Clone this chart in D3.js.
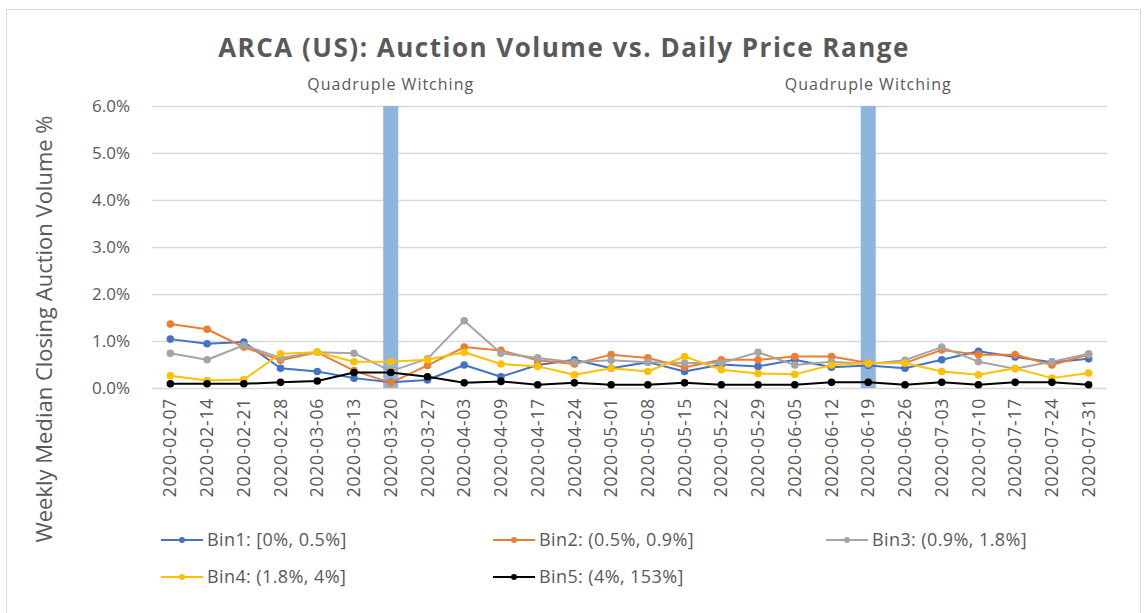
<!DOCTYPE html>
<html>
<head>
<meta charset="utf-8">
<script src="https://cdn.jsdelivr.net/npm/d3@7"></script>
<style>
  body { margin: 0; background: #fff; }
  text { font-family: "Open Sans", sans-serif; fill: #595959; }
</style>
</head>
<body>
<div id="chart"></div>
<script>
var dates = ["2020-02-07","2020-02-14","2020-02-21","2020-02-28","2020-03-06","2020-03-13",
  "2020-03-20","2020-03-27","2020-04-03","2020-04-09","2020-04-17","2020-04-24","2020-05-01",
  "2020-05-08","2020-05-15","2020-05-22","2020-05-29","2020-06-05","2020-06-12","2020-06-19",
  "2020-06-26","2020-07-03","2020-07-10","2020-07-17","2020-07-24","2020-07-31"]

var bin1 = [1.04,0.94,0.98,0.42,0.35,0.21,0.12,0.17,0.49,0.24,0.49,0.60,0.42,0.55,0.35,0.50,0.46,0.60,0.44,0.48,0.42,0.60,0.78,0.66,0.55,0.62]
var bin2 = [1.36,1.25,0.87,0.59,0.76,0.37,0.11,0.48,0.87,0.80,0.59,0.51,0.71,0.64,0.44,0.60,0.60,0.67,0.67,0.53,0.53,0.81,0.71,0.71,0.49,0.71]
var bin3 = [0.74,0.60,0.91,0.64,0.76,0.74,0.36,0.62,1.43,0.74,0.64,0.55,0.59,0.55,0.53,0.53,0.76,0.49,0.56,0.51,0.59,0.87,0.56,0.41,0.56,0.73]
var bin4 = [0.26,0.16,0.18,0.73,0.76,0.56,0.56,0.60,0.76,0.51,0.46,0.28,0.42,0.35,0.67,0.39,0.31,0.29,0.49,0.53,0.53,0.35,0.28,0.42,0.21,0.32]
var bin5 = [0.09,0.09,0.09,0.12,0.15,0.33,0.33,0.24,0.11,0.14,0.07,0.11,0.07,0.07,0.11,0.07,0.07,0.07,0.12,0.12,0.07,0.12,0.07,0.12,0.12,0.07]

var seriesNames = ["Bin1: [0%, 0.5%]", "Bin2: (0.5%, 0.9%]", "Bin3: (0.9%, 1.8%]", "Bin4: (1.8%, 4%]", "Bin5: (4%, 153%]"]
var seriesColors = ["#4472C4", "#ED7D31", "#A5A5A5", "#FFC000", "#000000"]

// quadruple witching weeks, drawn as full-height bars
var witchingDates = ["2020-03-20", "2020-06-19"]
var witchingValue = 6.0

var yTicks = [0, 1, 2, 3, 4, 5, 6]

var width = 1144, height = 613
var margin = { left: 152, right: 37, top: 106, bottom: 225 }

var svg = d3.select("#chart").append("svg")
    .attr("width", width)
    .attr("height", height)

// chart frame
svg.append("rect")
    .attr("x", 6.5).attr("y", 9.5)
    .attr("width", 1134).attr("height", 640)
    .style("fill", "none")
    .style("stroke", "#d9d9d9")

var x = d3.scaleBand()
    .domain(dates)
    .range([margin.left, width - margin.right])

var y = d3.scaleLinear()
    .domain([0, 6])
    .range([height - margin.bottom, margin.top])

// gridlines
svg.selectAll("line.grid")
    .data(yTicks)
  .enter().append("line")
    .attr("class", "grid")
    .attr("x1", margin.left)
    .attr("x2", width - margin.right)
    .attr("y1", function(d) { return Math.round(y(d)) + 0.5 })
    .attr("y2", function(d) { return Math.round(y(d)) + 0.5 })
    .style("stroke", "#d9d9d9")
    .style("stroke-width", 1.3)

// y axis labels
var yAxis = svg.append("g")
    .attr("transform", "translate(" + (margin.left - 19) + ",0)")
    .call(d3.axisLeft(y).tickValues(yTicks).tickSize(0).tickFormat(function(d) { return d3.format(".1f")(d) + "%" }))
yAxis.select(".domain").remove()
yAxis.selectAll("text")
    .style("font-size", "17px")
    .style("font-family", "'Open Sans', sans-serif")
    .style("fill", "#595959")

// x axis labels
var xAxis = svg.append("g")
    .attr("transform", "translate(0," + (y(0) + 9) + ")")
    .call(d3.axisBottom(x).tickSize(0))
xAxis.select(".domain").remove()
xAxis.selectAll("text")
    .attr("transform", "rotate(-90)")
    .attr("x", -1).attr("y", 0).attr("dx", 0).attr("dy", "0.35em")
    .style("text-anchor", "end")
    .style("font-size", "17.5px")
    .style("letter-spacing", "0.8px")
    .style("font-family", "'Open Sans', sans-serif")
    .style("fill", "#595959")

// witching bars
var barW = 15
svg.selectAll("rect.witch")
    .data(witchingDates)
  .enter().append("rect")
    .attr("class", "witch")
    .attr("x", function(d) { return x(d) + x.bandwidth() / 2 - barW / 2 })
    .attr("y", y(witchingValue))
    .attr("width", barW)
    .attr("height", y(0) - y(witchingValue))
    .style("fill", "#8FB4DE")

svg.selectAll("text.witch")
    .data(witchingDates)
  .enter().append("text")
    .attr("class", "witch")
    .attr("x", function(d) { return x(d) + x.bandwidth() / 2 })
    .attr("y", 90)
    .attr("text-anchor", "middle")
    .style("font-size", "16px")
    .style("letter-spacing", "1px")
    .text("Quadruple Witching")

// series lines
var allSeries = [bin1, bin2, bin3, bin4, bin5]
var line = d3.line()
    .x(function(d, i) { return x(dates[i]) + x.bandwidth() / 2 })
    .y(function(d) { return y(d) })

allSeries.forEach(function(vals, s) {
  svg.append("path")
      .datum(vals)
      .attr("d", line)
      .style("fill", "none")
      .style("stroke", seriesColors[s])
      .style("stroke-width", 2)
      .style("stroke-linejoin", "round")
  svg.selectAll("circle.s" + s)
      .data(vals)
    .enter().append("circle")
      .attr("class", "s" + s)
      .attr("cx", function(d, i) { return x(dates[i]) + x.bandwidth() / 2 })
      .attr("cy", function(d) { return y(d) })
      .attr("r", 3.8)
      .style("fill", seriesColors[s])
})

// title
svg.append("text")
    .attr("x", 564)
    .attr("y", 57)
    .attr("text-anchor", "middle")
    .style("font-size", "26px")
    .style("font-weight", "bold")
    .style("letter-spacing", "1.5px")
    .text("ARCA (US): Auction Volume vs. Daily Price Range")

// y axis title
svg.append("text")
    .attr("transform", "translate(52,329) rotate(-90)")
    .attr("text-anchor", "middle")
    .style("font-size", "22px")
    .text("Weekly Median Closing Auction Volume %")

// legend
var legendPos = [[161, 540], [493, 540], [826, 540], [161, 577], [493, 577]]
var legend = svg.selectAll("g.legend")
    .data(seriesNames)
  .enter().append("g")
    .attr("class", "legend")
    .attr("transform", function(d, i) { return "translate(" + legendPos[i][0] + "," + legendPos[i][1] + ")" })

legend.append("line")
    .attr("x1", 0).attr("x2", 42)
    .style("stroke", function(d, i) { return seriesColors[i] })
    .style("stroke-width", 2)
legend.append("circle")
    .attr("cx", 21).attr("r", 3)
    .style("fill", function(d, i) { return seriesColors[i] })
legend.append("text")
    .attr("x", 46)
    .attr("dy", "0.35em")
    .style("font-size", "18px")
    .style("letter-spacing", "0.4px")
    .text(function(d) { return d })
</script>
</body>
</html>
